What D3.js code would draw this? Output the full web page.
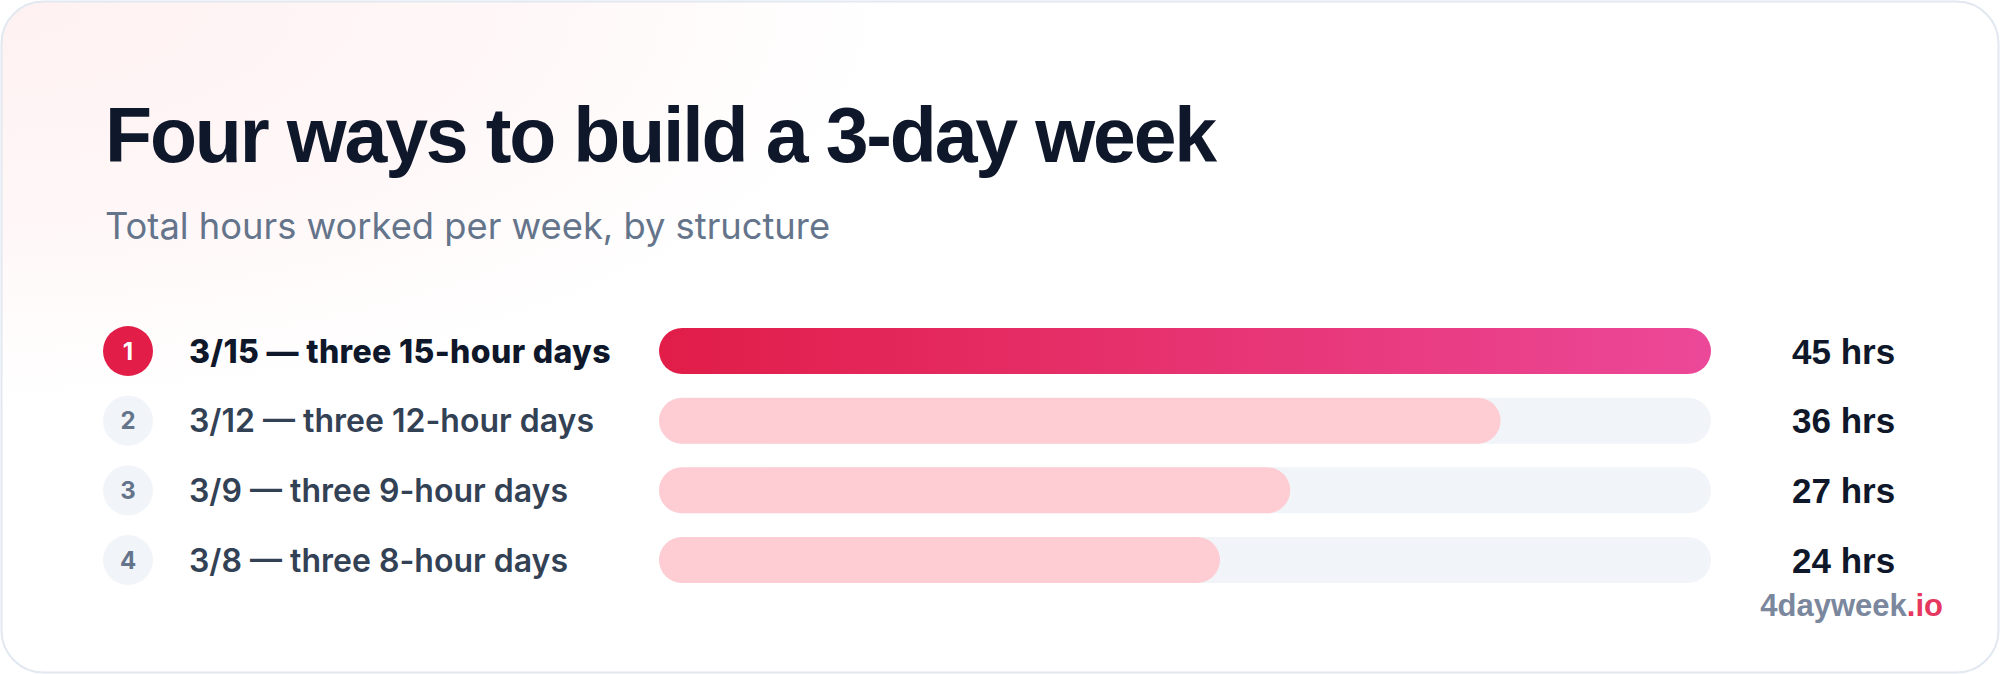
<!DOCTYPE html>
<html>
<head>
<meta charset="utf-8">
<script src="https://cdn.jsdelivr.net/npm/d3@7"></script>
<style>
  html, body { margin: 0; padding: 0; background: #ffffff; }
  svg { display: block; }
</style>
</head>
<body>
<svg id="chart" width="2000" height="674"></svg>
<script>
const ranks = ["1", "2", "3", "4"];
const categories = [
  "3/15 — three 15-hour days",
  "3/12 — three 12-hour days",
  "3/9 — three 9-hour days",
  "3/8 — three 8-hour days"
];
const hours = [45, 36, 27, 24];
const valueLabels = ["45 hrs", "36 hrs", "27 hrs", "24 hrs"];
const titleText = "Four ways to build a 3-day week";
const subtitleText = "Total hours worked per week, by structure";

const data = categories.map((c, i) => ({ rank: ranks[i], label: c, value: hours[i], text: valueLabels[i], i }));

const svg = d3.select("#chart");
const W = 2000, H = 674;

const defs = svg.append("defs");
const bg = defs.append("radialGradient").attr("id", "bgGlow")
  .attr("gradientUnits", "userSpaceOnUse")
  .attr("cx", 0).attr("cy", 0).attr("r", 900)
  .attr("gradientTransform", "scale(1,0.45)");
bg.append("stop").attr("offset", "0").attr("stop-color", "#fff1f2");
bg.append("stop").attr("offset", "0.55").attr("stop-color", "#fff7f7");
bg.append("stop").attr("offset", "1").attr("stop-color", "#ffffff");

const grad = defs.append("linearGradient").attr("id", "barGrad")
  .attr("x1", "0%").attr("x2", "100%").attr("y1", "0%").attr("y2", "0%");
grad.append("stop").attr("offset", "0").attr("stop-color", "#e11d48");
grad.append("stop").attr("offset", "1").attr("stop-color", "#ec4899");

// card
svg.append("rect")
  .attr("x", 1.5).attr("y", 1.5).attr("width", W - 3).attr("height", H - 3)
  .attr("rx", 42).attr("ry", 42)
  .attr("fill", "url(#bgGlow)")
  .attr("stroke", "#e2e8f0").attr("stroke-width", 2);

// title
svg.append("text")
  .attr("x", 105).attr("y", 162)
  .attr("font-family", "'Liberation Sans', Arial, Helvetica, sans-serif")
  .attr("font-weight", 700).attr("font-size", 77)
  .attr("letter-spacing", -2.15)
  .attr("fill", "#0f172a")
  .text(titleText);

svg.append("text")
  .attr("x", 105).attr("y", 239)
  .attr("font-family", "Inter, 'Noto Sans', sans-serif")
  .attr("font-weight", 400).attr("font-size", 36.3)
  .attr("fill", "#64748b")
  .text(subtitleText);

// scales
const x = d3.scaleLinear().domain([0, 45]).range([659, 1711]);
const y = d3.scaleBand().domain(categories).range([328, 583]).paddingInner(0.34).paddingOuter(0);
const bw = y.bandwidth();
const cy = d => y(d.label) + bw / 2;

const rows = svg.append("g").selectAll("g").data(data).join("g");

// tracks
rows.filter(d => d.i > 0).append("rect")
  .attr("x", x(0)).attr("y", d => y(d.label))
  .attr("width", x(45) - x(0)).attr("height", bw)
  .attr("rx", bw / 2)
  .attr("fill", "#f1f5f9");

// bars
rows.append("rect")
  .attr("x", x(0)).attr("y", d => y(d.label))
  .attr("width", d => x(d.value) - x(0)).attr("height", bw)
  .attr("rx", bw / 2)
  .attr("fill", d => d.i === 0 ? "url(#barGrad)" : "#fecdd3");

// rank circles
rows.append("circle")
  .attr("cx", 128).attr("cy", cy).attr("r", 25)
  .attr("fill", d => d.i === 0 ? "#e11d48" : "#f1f5f9");
rows.append("text")
  .attr("x", 128).attr("y", cy).attr("dy", "0.36em")
  .attr("text-anchor", "middle")
  .attr("font-family", "Inter, sans-serif").attr("font-weight", 700).attr("font-size", 24)
  .attr("fill", d => d.i === 0 ? "#ffffff" : "#64748b")
  .text(d => d.rank);

// category labels
rows.append("text")
  .attr("x", 189).attr("y", cy).attr("dy", "0.36em")
  .attr("font-family", "Inter, sans-serif")
  .attr("font-weight", d => d.i === 0 ? 800 : 600)
  .attr("font-size", 32)
  .attr("letter-spacing", d => d.i === 0 ? 0.35 : 0)
  .attr("fill", d => d.i === 0 ? "#0f172a" : "#334155")
  .text(d => d.label);

// value labels
rows.append("text")
  .attr("x", 1792).attr("y", cy).attr("dy", "0.36em")
  .attr("font-family", "'Liberation Sans', Arial, sans-serif")
  .attr("font-weight", 700).attr("font-size", 35)
  .attr("fill", "#0f172a")
  .text(d => d.text);

// watermark
const wm = svg.append("text")
  .attr("x", 1943).attr("y", 616)
  .attr("text-anchor", "end")
  .attr("font-family", "'Liberation Sans', Arial, sans-serif")
  .attr("font-weight", 700).attr("font-size", 31);
wm.append("tspan").attr("fill", "#7a879d").text("4dayweek");
wm.append("tspan").attr("fill", "#e6375f").text(".io");
</script>
</body>
</html>
